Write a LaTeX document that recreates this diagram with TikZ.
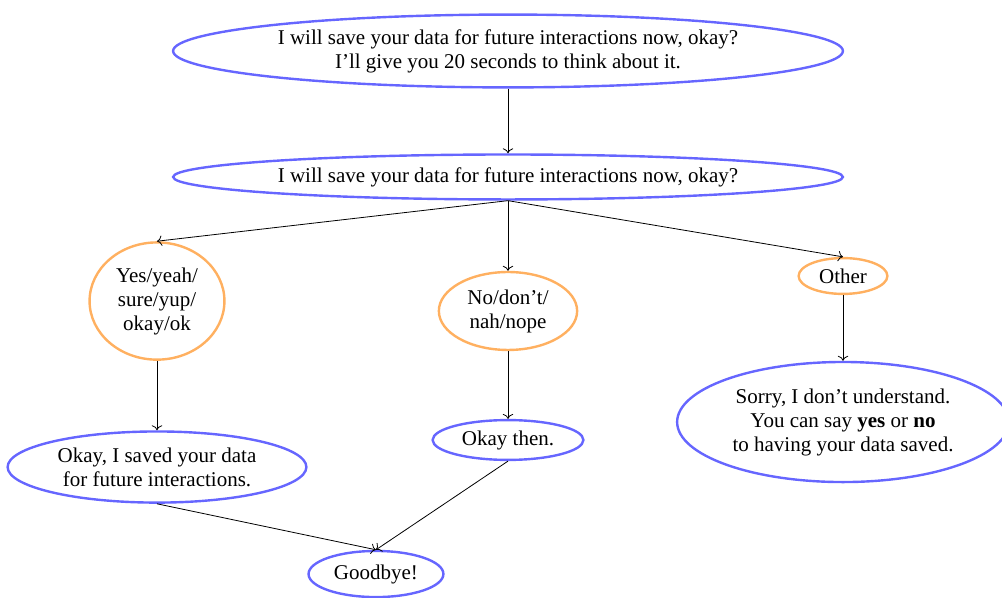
\documentclass[tikz,border=0pt]{standalone}
\usepackage{fontspec}
\setmainfont{Liberation Serif}
\usepackage{tikz}
\usetikzlibrary{arrows.meta,positioning,shapes.geometric}
\definecolor{saycolor}{RGB}{102,102,255}
\definecolor{hearcolor}{RGB}{255,176,96}
\tikzset{
  say/.style={ellipse, draw=saycolor, line width=1.2pt, align=center, inner sep=0pt, font=\fontsize{10.5}{12}\selectfont},
  hear/.style={ellipse, draw=hearcolor, line width=1.2pt, align=center, inner sep=0pt, font=\fontsize{10.5}{12}\selectfont},
  flow/.style={->, line width=0.4pt}
}
\begin{document}
\begin{tikzpicture}
\useasboundingbox (0,0) rectangle (17.608,-10.491);
\node[say, minimum width=11.77cm, minimum height=1.28cm] (ask20) at (8.927,-0.896) {I will save your data for future interactions now, okay?\\I’ll give you 20 seconds to think about it.};
\node[say, minimum width=11.77cm, minimum height=0.79cm] (ask) at (8.927,-3.110) {I will save your data for future interactions now, okay?};
\node[hear, minimum width=2.37cm, minimum height=2.06cm] (yes) at (2.759,-5.290) {Yes/yeah/\\sure/yup/\\okay/ok};
\node[hear, minimum width=2.43cm, minimum height=1.37cm] (no) at (8.927,-5.465) {No/don’t/\\nah/nope};
\node[hear, minimum width=1.56cm, minimum height=0.63cm] (other) at (14.814,-4.850) {Other};
\node[say, minimum width=5.25cm, minimum height=1.25cm] (saved) at (2.759,-8.207) {Okay, I saved your data\\for future interactions.};
\node[say, minimum width=2.65cm, minimum height=0.70cm] (then) at (8.927,-7.732) {Okay then.};
\node[say, minimum width=5.83cm, minimum height=2.11cm] (sorry) at (14.814,-7.416) {Sorry, I don’t understand.\\You can say \textbf{yes} or \textbf{no}\\to having your data saved.};
\node[say, minimum width=2.37cm, minimum height=0.81cm] (bye) at (6.607,-10.087) {Goodbye!};
\draw[flow] (ask20.south) -- (ask.north);
\draw[flow] (ask.south) -- (yes.north);
\draw[flow] (ask.south) -- (no.north);
\draw[flow] (ask.south) -- (other.north);
\draw[flow] (yes.south) -- (saved.north);
\draw[flow] (no.south) -- (then.north);
\draw[flow] (other.south) -- (sorry.north);
\draw[flow] (saved.south) -- (bye.north);
\draw[flow] (then.south) -- (bye.north);
\end{tikzpicture}
\end{document}
